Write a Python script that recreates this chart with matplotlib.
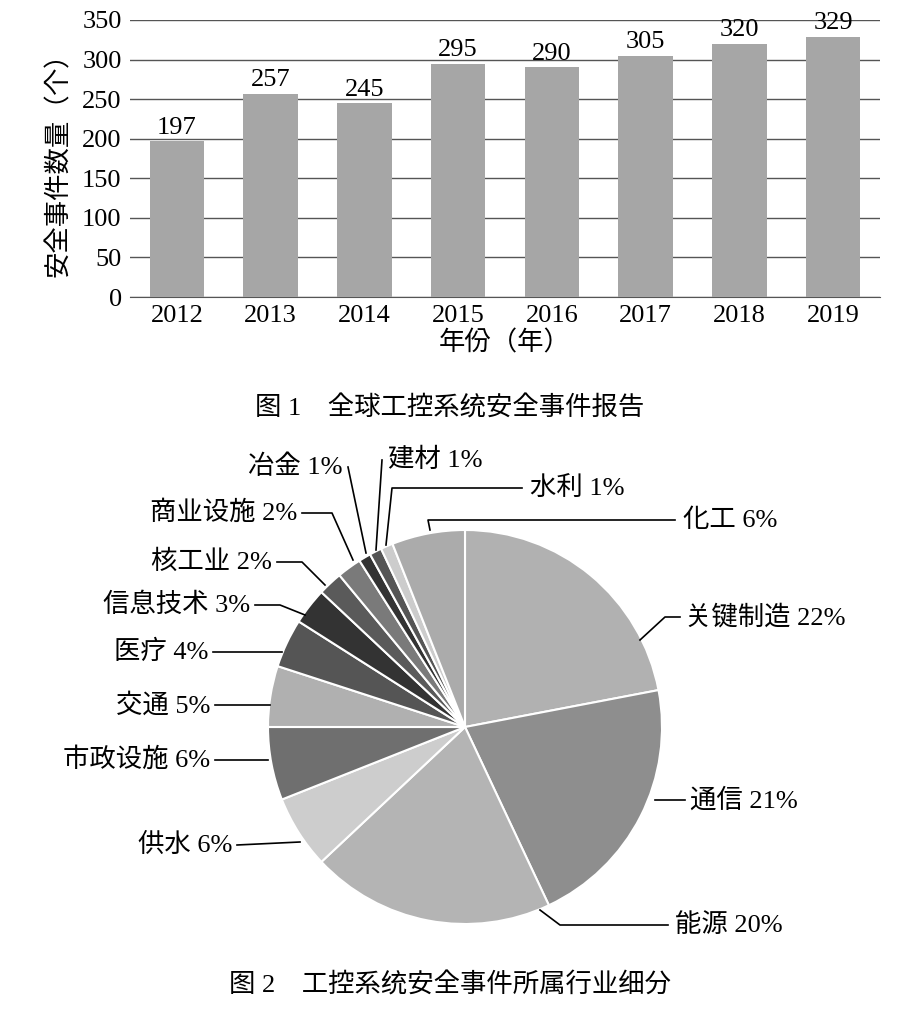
import matplotlib
matplotlib.use("Agg")
import matplotlib.pyplot as plt
from matplotlib import font_manager

cjk_names = sorted({f.name for f in font_manager.fontManager.ttflist if 'CJK' in f.name})
cjk = next((n for n in cjk_names if 'SC' in n), cjk_names[0] if cjk_names else 'Noto Sans CJK SC')
plt.rcParams['font.family'] = ['Liberation Serif', cjk]

years = ['2012', '2013', '2014', '2015', '2016', '2017', '2018', '2019']
counts = [197, 257, 245, 295, 290, 305, 320, 329]

industries = ['关键制造', '通信', '能源', '供水', '市政设施', '交通', '医疗', '信息技术',
              '核工业', '商业设施', '冶金', '建材', '水利', '化工']
shares = [22, 21, 20, 6, 6, 5, 4, 3, 2, 2, 1, 1, 1, 6]
colors = ['#b1b1b1', '#8e8e8e', '#b4b4b4', '#cdcdcd', '#6f6f6f', '#b0b0b0', '#555555',
          '#333333', '#5a5a5a', '#7a7a7a', '#333333', '#555555', '#cccccc', '#ababab']

W, H = 900, 1015
fig = plt.figure(figsize=(9, 10.15), dpi=100)

# ---- bar chart ----
ax = fig.add_axes([130 / W, (H - 297) / H, 750 / W, 277 / H])
x = range(len(years))
ax.bar(x, counts, width=0.58, color='#a6a6a6', zorder=3)
for i, v in zip(x, counts):
    ax.text(i, v + 3, str(v), ha='center', va='bottom', fontsize=19)
ax.set_xlim(-0.5, len(years) - 0.5)
ax.set_ylim(0, 350)
ax.set_yticks(range(0, 351, 50))
ax.set_xticks(list(x))
ax.set_xticklabels(years)
ax.tick_params(labelsize=19, length=0, pad=6)
ax.grid(axis='y', color='#555555', linewidth=1, zorder=0)
for s in ['top', 'right', 'left']:
    ax.spines[s].set_visible(False)
ax.spines['bottom'].set_color('#555555')
ax.set_ylabel('安全事件数量（个）', fontsize=19, labelpad=8)
ax.set_xlabel('年份（年）', fontsize=19, labelpad=2)
fig.text(450 / W, 1 - 408 / H, '图 1    全球工控系统安全事件报告', ha='center', va='center', fontsize=19)

# ---- pie chart ----
cx, cy, R = 465, 727, 197
frac = 0.58
pa = fig.add_axes([0, 0, 1, frac])
top_px = H - frac * H
pa.pie(shares, colors=colors, startangle=90, counterclock=False, radius=1,
       wedgeprops=dict(edgecolor='white', linewidth=1.5))
pa.set_aspect('auto')
pa.set_xlim(-cx / R, (W - cx) / R)
pa.set_ylim(-(H - cy) / R, (cy - top_px) / R)
pa.axis('off')

def P(px, py):
    return ((px - cx) / R, (cy - py) / R)

labels = [
    ('化工 6%', [(430, 530), (428, 520), (675, 520)], (683, 520), 'left'),
    ('水利 1%', [(386, 545), (392, 488), (522, 488)], (530, 488), 'left'),
    ('建材 1%', [(376, 550), (382, 460)], (388, 460), 'left'),
    ('冶金 1%', [(366, 553), (348, 467)], (342, 467), 'right'),
    ('商业设施 2%', [(353, 560), (332, 513), (302, 513)], (297, 513), 'right'),
    ('核工业 2%', [(325, 585), (302, 562), (277, 562)], (272, 562), 'right'),
    ('信息技术 3%', [(305, 615), (280, 605), (255, 605)], (250, 605), 'right'),
    ('医疗 4%', [(282, 652), (213, 652)], (208, 652), 'right'),
    ('交通 5%', [(270, 705), (215, 705)], (210, 705), 'right'),
    ('市政设施 6%', [(268, 760), (215, 760)], (210, 760), 'right'),
    ('供水 6%', [(300, 842), (237, 845)], (232, 845), 'right'),
    ('能源 20%', [(540, 910), (560, 925), (668, 925)], (675, 925), 'left'),
    ('通信 21%', [(655, 800), (685, 800)], (690, 800), 'left'),
    ('关键制造 22%', [(640, 640), (665, 617), (680, 617)], (685, 617), 'left'),
]
for txt, pts, tp, ha in labels:
    xs, ys = zip(*[P(*p) for p in pts])
    pa.plot(xs, ys, color='black', linewidth=1.2)
    tx, ty = P(*tp)
    pa.text(tx, ty, txt, ha=ha, va='center', fontsize=19)

fig.text(450 / W, 1 - 985 / H, '图 2    工控系统安全事件所属行业细分', ha='center', va='center', fontsize=19)

fig.savefig('out.png', dpi=100, facecolor='white')
